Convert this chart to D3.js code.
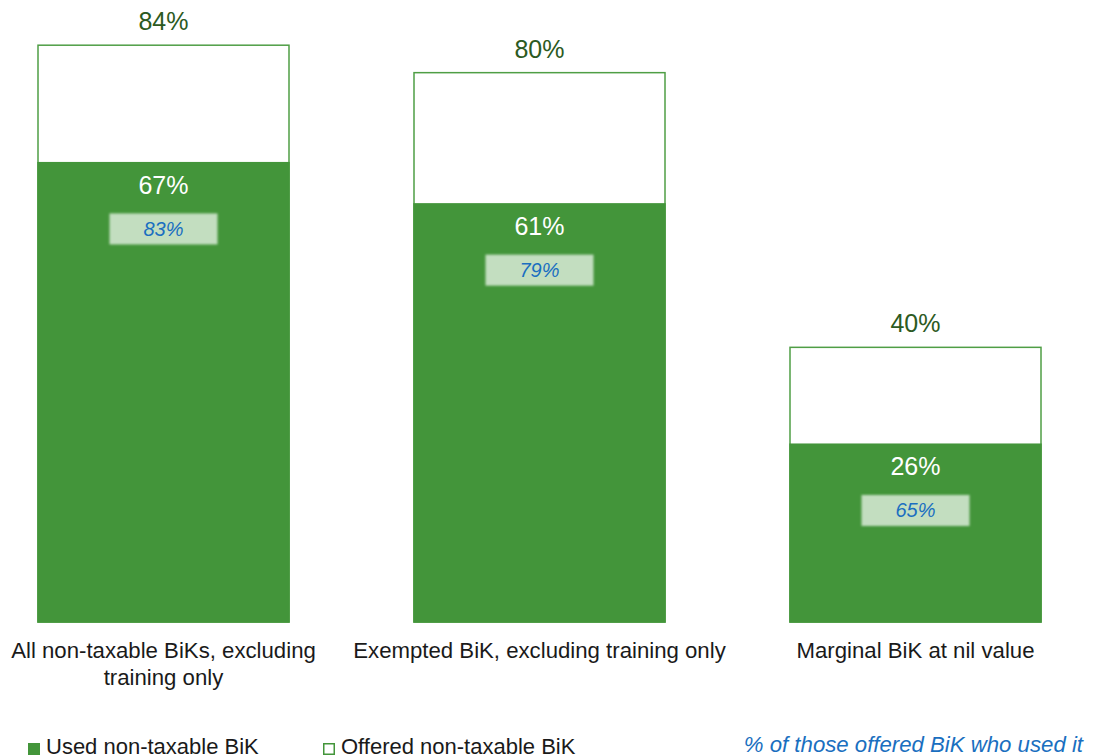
<!DOCTYPE html>
<html>
<head>
<meta charset="utf-8">
<script src="https://cdn.jsdelivr.net/npm/d3@7/dist/d3.min.js"></script>
<style>
  html, body { margin: 0; padding: 0; background: #ffffff; }
  svg { display: block; font-family: "Liberation Sans", Arial, sans-serif; }
</style>
</head>
<body>
<svg id="chart" width="1093" height="756"></svg>
<script>
// Share of employees offered / using non-taxable benefits in kind
const categories = [
  ["All non-taxable BiKs, excluding", "training only"],
  ["Exempted BiK, excluding training only"],
  ["Marginal BiK at nil value"]
];
const offered = [84, 80, 40];
const used = [67, 61, 26];
const usedOfOffered = [83, 79, 65];

const legendLabels = ["Used non-taxable BiK", "Offered non-taxable BiK"];
const noteLabel = "% of those offered BiK who used it";

const GREEN = "#43953a";
const GREEN_EDGE = "#4f9e45";
const DARK_GREEN = "#2c5a22";
const BLUE = "#1a6fc0";
const BOX_FILL = "#c3dec0";

const svg = d3.select("#chart");

const defs = svg.append("defs");
defs.append("filter").attr("id", "soft")
  .attr("x", "-10%").attr("y", "-30%").attr("width", "120%").attr("height", "160%")
  .append("feGaussianBlur").attr("stdDeviation", 1.3);

const idx = d3.range(categories.length);

const x = d3.scaleBand()
  .domain(idx)
  .range([38, 1041])
  .paddingInner(125 / 376)
  .paddingOuter(0);

const y = d3.scaleLinear().domain([0, 90]).range([622, 4]);

const bars = svg.append("g").selectAll("g").data(idx).join("g");

// offered (outline) bar
bars.append("rect")
  .attr("x", i => x(i))
  .attr("y", i => y(offered[i]))
  .attr("width", x.bandwidth())
  .attr("height", i => y(0) - y(offered[i]))
  .attr("fill", "#ffffff")
  .attr("stroke", GREEN_EDGE)
  .attr("stroke-width", 1.5);

// used (filled) bar
bars.append("rect")
  .attr("x", i => x(i) - 0.75)
  .attr("y", i => y(used[i]))
  .attr("width", x.bandwidth() + 1.5)
  .attr("height", i => y(0) - y(used[i]) + 0.75)
  .attr("fill", GREEN);

// offered value above bar
bars.append("text")
  .attr("x", i => x(i) + x.bandwidth() / 2)
  .attr("y", i => y(offered[i]) - 15)
  .attr("text-anchor", "middle")
  .attr("font-size", 25)
  .attr("fill", DARK_GREEN)
  .text(i => offered[i] + "%");

// used value inside bar
bars.append("text")
  .attr("x", i => x(i) + x.bandwidth() / 2)
  .attr("y", i => y(used[i]) + 32)
  .attr("text-anchor", "middle")
  .attr("font-size", 25)
  .attr("fill", "#ffffff")
  .text(i => used[i] + "%");

// share of offered who used it: soft light box with italic label
const boxW = 108, boxH = 31;
bars.append("rect")
  .attr("x", i => x(i) + x.bandwidth() / 2 - boxW / 2)
  .attr("y", i => y(used[i]) + 67 - boxH / 2)
  .attr("width", boxW)
  .attr("height", boxH)
  .attr("fill", BOX_FILL)
  .attr("filter", "url(#soft)");

bars.append("text")
  .attr("x", i => x(i) + x.bandwidth() / 2)
  .attr("y", i => y(used[i]) + 67 + 7)
  .attr("text-anchor", "middle")
  .attr("font-size", 20)
  .attr("font-style", "italic")
  .attr("fill", BLUE)
  .text(i => usedOfOffered[i] + "%");

// category labels
bars.append("text")
  .attr("text-anchor", "middle")
  .attr("font-size", 22.2)
  .attr("fill", "#1a1a1a")
  .selectAll("tspan")
  .data(i => categories[i].map((line, k) => ({ line, k, i })))
  .join("tspan")
  .attr("x", d => x(d.i) + x.bandwidth() / 2)
  .attr("y", d => 658 + d.k * 27)
  .text(d => d.line);

// legend
const legend = svg.append("g");
const legendX = [28, 323];
legend.selectAll("rect").data(legendLabels).join("rect")
  .attr("x", (d, i) => legendX[i] + (i === 1 ? 0.75 : 0))
  .attr("y", (d, i) => 743 + (i === 1 ? 0.75 : 0))
  .attr("width", (d, i) => i === 1 ? 10.5 : 12)
  .attr("height", (d, i) => i === 1 ? 10.5 : 12)
  .attr("fill", (d, i) => i === 0 ? GREEN : "#ffffff")
  .attr("stroke", (d, i) => i === 1 ? GREEN : "none")
  .attr("stroke-width", 1.5);

legend.selectAll("text").data(legendLabels).join("text")
  .attr("x", (d, i) => legendX[i] + 18)
  .attr("y", 754)
  .attr("font-size", 22)
  .attr("fill", "#1a1a1a")
  .text(d => d);

svg.append("text")
  .attr("x", 1083)
  .attr("y", 752)
  .attr("text-anchor", "end")
  .attr("font-size", 22.2)
  .attr("font-style", "italic")
  .attr("fill", BLUE)
  .text(noteLabel);
</script>
</body>
</html>
